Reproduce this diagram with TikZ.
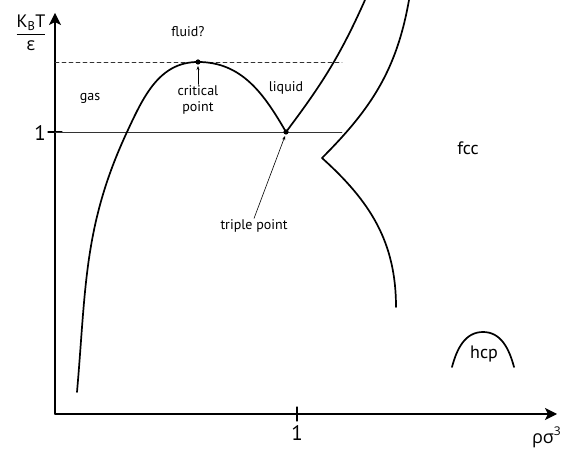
\documentclass[tikz,border=0pt]{standalone}
\usepackage{fontspec}
\usepackage{amsmath}
\setmainfont{PT Sans}
\newfontfamily\greekfont{Open Sans}
\usetikzlibrary{arrows.meta}
\begin{document}
\begin{tikzpicture}[x=1pt,y=1pt,>={Stealth[length=12pt,width=12pt,inset=3pt]},line join=round,line cap=round,font=\fontsize{14}{16}\selectfont]
	\tikzset{phase/.style={line width=1.7pt},
		guide/.style={line width=0.8pt,black!80},
		big/.style={font=\fontsize{18}{20}\selectfont},
		huge/.style={font=\fontsize{21}{23}\selectfont}}
	\useasboundingbox (0,0) rectangle (562,449);
	\path (55,35) coordinate (O)
		(55,436) coordinate (Ytip)
		(557,35) coordinate (Xtip)
		(55,317) coordinate (Y1)
		(297,35) coordinate (X1)
		(342,317) coordinate (Yend)
		(342,387) coordinate (Dend)
		(55,387) coordinate (D)
		(198,387) coordinate (C)
		(286,317) coordinate (T)
		(77,57) coordinate (Gbot)
		(127,317) coordinate (G1)
		(365,449) coordinate (Ltop)
		(409,449) coordinate (Stop)
		(322,291) coordinate (Cusp)
		(396,142) coordinate (Sbot)
		(452,82) coordinate (Ha)
		(483,117) coordinate (Hb)
		(514,82) coordinate (Hc);
	% axes
	\draw [line width=1.2pt,->] (O)--(Ytip);
	\draw [line width=1.2pt,->] (O)--(Xtip);
	\draw [line width=1.2pt] (Y1)++(-7,0)--++(14,0);
	\draw [line width=1.2pt] (X1)++(0,-7)--++(0,14);
	\node [huge] (one y) at (40,316) {1};
	\node [huge] (one x) at (297,16) {1};
	\node [big,anchor=east,inner sep=1pt] (rho) at (562,12) {\greekfont ρσ\raisebox{0.45em}{\fontsize{12}{12}\selectfont 3}};
	\node [big] (ylab) at (31,416) {$\dfrac{\text{K}_{\text{B}}\text{T}}{\text{\greekfont ε}}$};
	% guide lines
	\draw [guide] (Y1)--(Yend);
	\draw [guide,dash pattern=on 4pt off 3pt] (D)--(Dend);
	% phase boundaries
	\draw [phase] (Gbot) to[out=85,in=-115] (G1) to[out=65,in=180] (C) to[out=0,in=120] (T);
	\draw [phase] (T) to[out=53,in=-114] (Ltop);
	\draw [phase] (Stop) to[out=-100,in=45] (Cusp) to[out=-42,in=90] (Sbot);
	\draw [phase] (Ha) to[out=75,in=180] (Hb) to[out=0,in=105] (Hc);
	\foreach \p in {C,T}{
		\fill (\p) circle (2.6pt);
	}
	% labels
	\node (gas) at (90,351) {gas};
	\node (fluid) at (188,417) {fluid?};
	\node (liquid) at (286,361) {liquid};
	\node [align=center,inner sep=1pt] (crit) at (198,349) {critical\\point};
	\node [inner sep=1pt] (triple) at (254,223) {triple point};
	\node [big] (fcc) at (468,301) {fcc};
	\node [big] (hcp) at (484,95) {hcp};
	\draw [line width=0.6pt,-{Stealth[length=4pt,width=3pt]}] (crit.north)--(198,383);
	\draw [line width=0.6pt,-{Stealth[length=4pt,width=3pt]}] (triple.north)--(285,313);
\end{tikzpicture}
\end{document}
